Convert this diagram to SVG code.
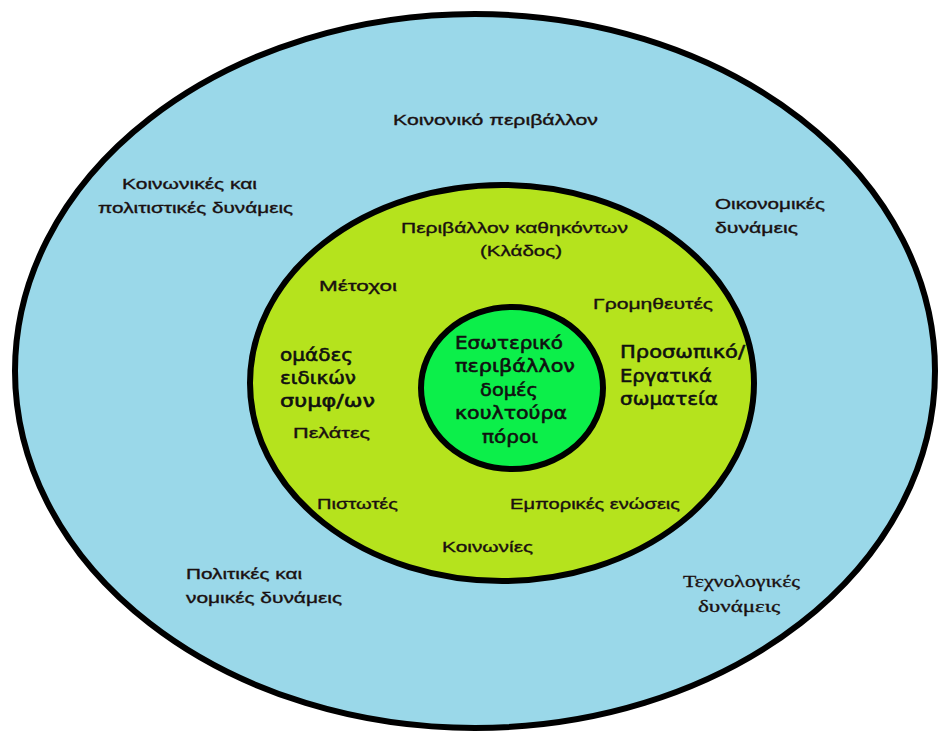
<svg xmlns="http://www.w3.org/2000/svg" width="944" height="731" viewBox="0 0 944 731">
  <style>
    .ring { stroke: #000; stroke-width: 6; }
    .lbl { font-family: "Liberation Sans", "Noto Sans", sans-serif; font-size: 15px; fill: #1a1010; stroke: #1a1010; stroke-width: 0.35; }
    .serif { font-family: "Liberation Serif", "DejaVu Serif", serif; font-size: 16px; fill: #1a1010; stroke: #1a1010; stroke-width: 0.3; }
    .core { font-family: "DejaVu Sans", "Noto Sans", sans-serif; font-size: 17px; fill: #101010; stroke: #101010; stroke-width: 0.55; }
  </style>
  <rect width="944" height="731" fill="#ffffff"/>

  <!-- general (social) environment -->
  <g id="general-environment">
    <ellipse class="ring" cx="475" cy="371" rx="460" ry="357" fill="#9ad8e9"/>
    <text class="lbl" x="393" y="125" textLength="205" lengthAdjust="spacingAndGlyphs">Κοινονικό περιβάλλον</text>
    <text class="lbl" x="122" y="189" textLength="135" lengthAdjust="spacingAndGlyphs">Κοινωνικές και</text>
    <text class="lbl" x="98" y="213" textLength="195" lengthAdjust="spacingAndGlyphs">πολιτιστικές δυνάμεις</text>
    <text class="lbl" x="715" y="209" textLength="110" lengthAdjust="spacingAndGlyphs">Οικονομικές</text>
    <text class="lbl" x="715" y="233" textLength="83" lengthAdjust="spacingAndGlyphs">δυνάμεις</text>
    <text class="lbl" x="186" y="579" textLength="116" lengthAdjust="spacingAndGlyphs">Πολιτικές και</text>
    <text class="lbl" x="186" y="603" textLength="156" lengthAdjust="spacingAndGlyphs">νομικές δυνάμεις</text>
    <text class="serif" x="683" y="587" textLength="117" lengthAdjust="spacingAndGlyphs">Τεχνολογικές</text>
    <text class="serif" x="698" y="612" textLength="82" lengthAdjust="spacingAndGlyphs">δυνάμεις</text>
  </g>

  <!-- task environment (industry) -->
  <g id="task-environment">
    <ellipse class="ring" cx="502" cy="383" rx="252" ry="198" fill="#b5e31d"/>
    <text class="lbl" x="401" y="233" textLength="227" lengthAdjust="spacingAndGlyphs">Περιβάλλον καθηκόντων</text>
    <text class="lbl" x="480" y="256" textLength="82" lengthAdjust="spacingAndGlyphs">(Κλάδος)</text>
    <text class="lbl" x="319" y="291" textLength="78" lengthAdjust="spacingAndGlyphs">Μέτοχοι</text>
    <text class="lbl" x="593" y="309" textLength="120" lengthAdjust="spacingAndGlyphs">Γρομηθευτές</text>
    <text class="core" x="280" y="361" textLength="73" lengthAdjust="spacingAndGlyphs">ομάδες</text>
    <text class="core" x="280" y="384" textLength="76" lengthAdjust="spacingAndGlyphs">ειδικών</text>
    <text class="core" x="280" y="407" textLength="95" lengthAdjust="spacingAndGlyphs">συμφ/ων</text>
    <text class="lbl" x="293" y="438" textLength="77" lengthAdjust="spacingAndGlyphs">Πελάτες</text>
    <text class="core" x="620" y="358" textLength="125" lengthAdjust="spacingAndGlyphs">Προσωπικό/</text>
    <text class="core" x="620" y="382" textLength="92" lengthAdjust="spacingAndGlyphs">Εργατικά</text>
    <text class="core" x="620" y="405" textLength="98" lengthAdjust="spacingAndGlyphs">σωματεία</text>
    <text class="lbl" x="317" y="509" textLength="81" lengthAdjust="spacingAndGlyphs">Πιστωτές</text>
    <text class="lbl" x="510" y="509" textLength="170" lengthAdjust="spacingAndGlyphs">Εμπορικές ενώσεις</text>
    <text class="lbl" x="442" y="552" textLength="91" lengthAdjust="spacingAndGlyphs">Κοινωνίες</text>
  </g>

  <!-- internal environment -->
  <g id="internal-environment">
    <ellipse class="ring" cx="512" cy="388" rx="91" ry="81" fill="#0cef4a"/>
    <text class="core" x="455" y="349" textLength="108" lengthAdjust="spacingAndGlyphs">Εσωτερικό</text>
    <text class="core" x="455" y="372" textLength="120" lengthAdjust="spacingAndGlyphs">περιβάλλον</text>
    <text class="core" x="480" y="396" textLength="58" lengthAdjust="spacingAndGlyphs">δομές</text>
    <text class="core" x="455" y="419" textLength="112" lengthAdjust="spacingAndGlyphs">κουλτούρα</text>
    <text class="core" x="482" y="443" textLength="56" lengthAdjust="spacingAndGlyphs">πόροι</text>
  </g>
</svg>
